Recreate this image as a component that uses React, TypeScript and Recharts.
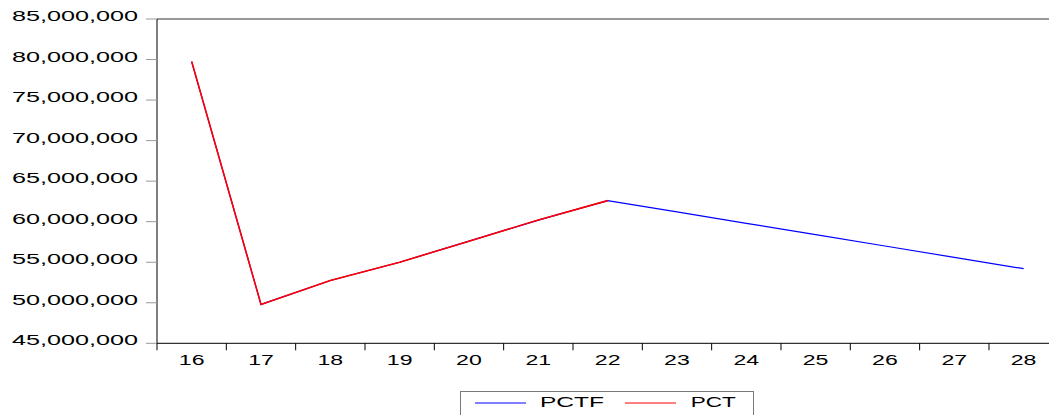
import React from 'react';
import { LineChart, Line, XAxis, YAxis, Legend, ReferenceLine } from 'recharts';

const years = [16, 17, 18, 19, 20, 21, 22, 23, 24, 25, 26, 27, 28];
const pctfValues = [79750000, 49800000, 52750000, 55000000, 57600000, 60200000, 62600000, 61200000, 59800000, 58400000, 57000000, 55600000, 54200000];
const pctValues: (number | null)[] = [79750000, 49800000, 52750000, 55000000, 57600000, 60200000, 62600000, null, null, null, null, null, null];
const yTicks = [45000000, 50000000, 55000000, 60000000, 65000000, 70000000, 75000000, 80000000, 85000000];
const seriesNames = ['PCTF', 'PCT'];
const seriesColors: Record<string, string> = { PCTF: '#0000FF', PCT: '#FF0000' };

const data = years.map((y, i) => ({ year: y, PCTF: pctfValues[i], PCT: pctValues[i] }));

const CHART_W = 1070;
const CHART_H = 415;
const PLOT_LEFT = 157;
const PLOT_RIGHT = 1058.3;
const STEP = (PLOT_RIGHT - PLOT_LEFT) / years.length;
const FONT = '"Liberation Sans", Arial, Helvetica, sans-serif';

const fmt = (v: number) => v.toLocaleString('en-US');

function YTick(props: any) {
  const { x, y, payload } = props;
  const w = 126;
  return (
    <text x={x - w} y={y} dy={2} textAnchor="start" fontFamily={FONT} fontSize={15} fill="#000"
      textLength={w} lengthAdjust="spacingAndGlyphs">{fmt(payload.value)}</text>
  );
}

function XTick(props: any) {
  const { x, y, payload } = props;
  const w = 25.7;
  return (
    <g>
      <line x1={x - STEP / 2} x2={x - STEP / 2} y1={y} y2={y + 7} stroke="#000" strokeWidth={1} />
      <text x={x - w / 2} y={y + 22} textAnchor="start" fontFamily={FONT} fontSize={14} fill="#000"
        textLength={w} lengthAdjust="spacingAndGlyphs">{String(payload.value)}</text>
    </g>
  );
}

function LegendBox(props: any) {
  const payload = [...(props.payload || [])].sort(
    (a: any, b: any) => seriesNames.indexOf(a.value) - seriesNames.indexOf(b.value));
  const items = [
    { lx: 15, tx: 80, tw: 64 },
    { lx: 165, tx: 230.7, tw: 45 },
  ];
  return (
    <svg width={294} height={40} style={{ display: 'block' }}>
      <rect x={0.5} y={0.5} width={293} height={39} fill="#fff" stroke="#7a7a7a" strokeWidth={1} />
      {payload.map((p: any, i: number) => {
        const it = items[i] || items[0];
        return (
          <g key={p.value}>
            <line x1={it.lx} x2={it.lx + 51} y1={12} y2={12} stroke={p.color} strokeWidth={1} />
            <text x={it.tx} y={15.7} fontFamily={FONT} fontSize={15.5} fill="#000"
              textLength={it.tw} lengthAdjust="spacingAndGlyphs">{p.value}</text>
          </g>
        );
      })}
    </svg>
  );
}

export default function App() {
  return (
    <div style={{ position: 'absolute', left: 0, top: 0, width: 1049, height: 415, overflow: 'hidden', background: '#fff' }}>
      <LineChart width={CHART_W} height={CHART_H} data={data}
        margin={{ top: 19, right: CHART_W - PLOT_RIGHT, bottom: 41.7, left: 0 }}>
        <XAxis dataKey="year" type="number" domain={[15.5, 28.5]} allowDataOverflow ticks={years} interval={0}
          tickSize={0} tickMargin={0} height={30} tick={<XTick />} tickLine={false}
          axisLine={{ stroke: '#000', strokeWidth: 1 }} />
        <YAxis type="number" domain={[45000000, 85000000]} allowDataOverflow ticks={yTicks} interval={0} width={PLOT_LEFT}
          tickSize={11} tickMargin={8} tick={<YTick />} tickLine={{ stroke: '#999' }}
          axisLine={{ stroke: '#000', strokeWidth: 1 }} />
        <ReferenceLine y={yTicks[yTicks.length - 1]} stroke="#333" strokeWidth={1} />
        <Line type="linear" dataKey="PCTF" name="PCTF" stroke={seriesColors.PCTF} strokeWidth={1.2} dot={false}
          activeDot={false} isAnimationActive={false} />
        <Line type="linear" dataKey="PCT" name="PCT" stroke={seriesColors.PCT} strokeWidth={1.6} dot={false}
          activeDot={false} isAnimationActive={false} connectNulls={false} />
        <Legend layout="vertical" align="center" verticalAlign="middle" content={<LegendBox />}
          wrapperStyle={{ top: 391, left: 460, width: 294, height: 40 }} />
      </LineChart>
    </div>
  );
}
